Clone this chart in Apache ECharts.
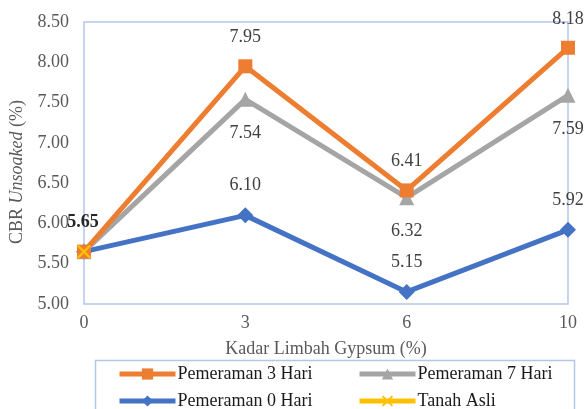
<!DOCTYPE html>
<html>
<head>
<meta charset="utf-8">
<script src="https://cdn.jsdelivr.net/npm/echarts@6/dist/echarts.min.js"></script>
<style>html,body{margin:0;padding:0;background:#fff;}#c{width:585px;height:409px;}</style>
</head>
<body>
<div id="c"></div>
<script>
const categories = ['0', '3', '6', '10'];
const pem3 = [5.65, 7.95, 6.41, 8.18];
const pem7 = [5.65, 7.54, 6.32, 7.59];
const pem0 = [5.65, 6.10, 5.15, 5.92];
const tanahAsli = [5.65, null, null, null];
const yTicks = {min: 5, max: 8.5, interval: 0.5};

const FONT = 'Liberation Serif';
const chart = echarts.init(document.getElementById('c'));
const xPath = 'path://M0,1.2L1.2,0L5,3.8L8.8,0L10,1.2L6.2,5L10,8.8L8.8,10L5,6.2L1.2,10L0,8.8L3.8,5Z';

function labelled(values, hideFirst, firstBold) {
  return values.map((v, i) => {
    if (i === 0 && hideFirst) return {value: v, label: {show: false}};
    if (i === 0 && firstBold) return {value: v, label: {show: true, fontWeight: 'bold', color: '#262626', offset: [-1, 0]}};
    return v;
  });
}

const labelBase = {show: true, fontFamily: FONT, fontSize: 18, color: '#404040', formatter: p => p.value.toFixed(2)};
const legendBase = {orient: 'vertical', top: 365, height: 80, padding: 0, itemWidth: 56, itemHeight: 14, itemGap: 9,
  lineStyle: {width: 5}, textStyle: {fontFamily: FONT, fontSize: 18, color: '#1a1a1a', padding: [0, 0, 0, -3]}};

chart.setOption({
  animation: false,
  grid: {left: 84, right: 17, top: 22, bottom: 105, show: true, borderColor: '#b4c7e7', borderWidth: 1.5},
  xAxis: {
    type: 'category', data: categories, boundaryGap: false,
    axisLine: {show: false}, axisTick: {show: false}, splitLine: {show: false},
    axisLabel: {fontFamily: FONT, fontSize: 18, color: '#595959', margin: 10},
    name: 'Kadar Limbah Gypsum (%)', nameLocation: 'middle', nameGap: 36,
    nameTextStyle: {fontFamily: FONT, fontSize: 18, color: '#595959'}
  },
  yAxis: {
    type: 'value', min: yTicks.min, max: yTicks.max, interval: yTicks.interval,
    axisLine: {show: false}, axisTick: {show: false}, splitLine: {show: false},
    axisLabel: {fontFamily: FONT, fontSize: 18, color: '#595959', margin: 15, formatter: v => v.toFixed(2)},
    name: '{a|CBR }{b|Unsoaked}{a| (%)}', nameLocation: 'middle', nameGap: 48,
    nameTextStyle: {padding: [0, 18, 0, 0], rich: {
      a: {fontFamily: FONT, fontSize: 18, color: '#595959'},
      b: {fontFamily: FONT, fontSize: 18, color: '#595959', fontStyle: 'italic'}
    }}
  },
  legend: [
    Object.assign({}, legendBase, {data: ['Pemeraman 3 Hari', 'Pemeraman 0 Hari'], left: 117}),
    Object.assign({}, legendBase, {data: ['Pemeraman 7 Hari', 'Tanah Asli'], left: 357})
  ],
  graphic: [{type: 'rect', left: 93, top: 358, shape: {width: 479, height: 60}, style: {fill: 'none', stroke: '#b4c7e7', lineWidth: 1.5}, silent: true}],
  series: [
    {name: 'Pemeraman 0 Hari', type: 'line', data: labelled(pem0, true, false), symbol: 'diamond', symbolSize: 16,
     lineStyle: {color: '#4472c4', width: 5}, itemStyle: {color: '#4472c4'}, z: 2,
     label: Object.assign({}, labelBase, {position: 'top', distance: 13})},
    {name: 'Pemeraman 7 Hari', type: 'line', data: labelled(pem7, true, false), symbol: 'triangle', symbolSize: 15,
     lineStyle: {color: '#a5a5a5', width: 5}, itemStyle: {color: '#a5a5a5'}, z: 3,
     label: Object.assign({}, labelBase, {position: 'bottom', distance: 17})},
    {name: 'Pemeraman 3 Hari', type: 'line', data: labelled(pem3, false, true), symbol: 'rect', symbolSize: 14,
     lineStyle: {color: '#ed7d31', width: 5}, itemStyle: {color: '#ed7d31'}, z: 4,
     label: Object.assign({}, labelBase, {position: 'top', distance: 13})},
    {name: 'Tanah Asli', type: 'line', data: tanahAsli, symbol: xPath, symbolSize: 14,
     lineStyle: {color: '#ffc000', width: 5}, itemStyle: {color: '#ffc000'}, z: 5, label: {show: false}}
  ]
});
</script>
</body>
</html>
